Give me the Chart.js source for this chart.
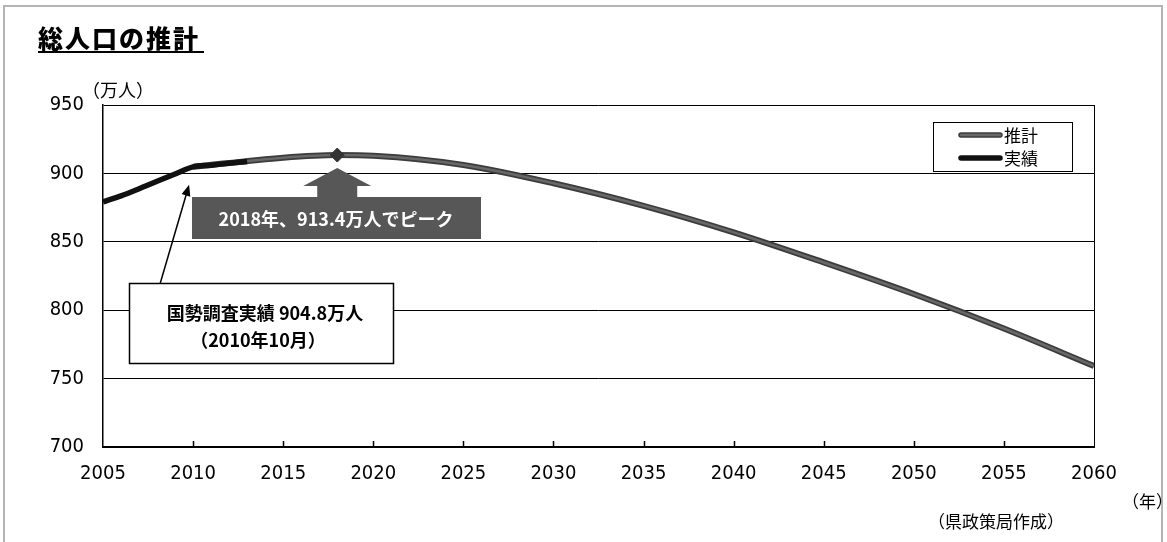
<!DOCTYPE html>
<html>
<head>
<meta charset="utf-8">
<script src="https://cdn.jsdelivr.net/npm/chart.js@4.4.1/dist/chart.umd.min.js"></script>
<style>
  html, body { margin: 0; padding: 0; background: #fff; }
  #wrap { width: 1167px; height: 542px; position: relative; }
</style>
</head>
<body>
<div id="wrap"><canvas id="popChart" width="1167" height="542"></canvas></div>
<script>
// 実績 (actual)
const actualYears = [2005, 2006, 2007, 2008, 2009, 2010, 2011, 2012, 2013];
const actualValues = [879.2, 883.6, 888.8, 894.3, 899.6, 904.8, 906.0, 907.4, 908.7];

// 推計 (projection)
const estYears = [2010, 2015, 2018, 2020, 2025, 2030, 2035, 2040, 2045, 2050, 2055, 2060];
const estValues = [904.8, 911.5, 913.4, 912.9, 906.2, 892.8, 876.3, 856.9, 834.9, 811.8, 786.6, 759.2];

const peakYear = 2018;
const yTicks = [700, 750, 800, 850, 900, 950];

const numFont = "'Liberation Sans Narrow', 'DejaVu Sans Condensed', 'Liberation Sans', sans-serif";
const jpFont = "'Noto Sans CJK JP', sans-serif";

function toPoints(xs, ys) {
    return xs.map((x, i) => ({ x: x, y: ys[i] }));
}

// extra drawings: frame, titles, annotations, legend
const decorPlugin = {
    id: 'decor',
    beforeDraw(chart) {
        const c = chart.ctx;
        c.save();
        c.strokeStyle = '#b4b4b4';
        c.lineWidth = 2;
        c.strokeRect(4, 6, 1158, 540);
        c.restore();
    },
    afterDatasetsDraw(chart) {
        const c = chart.ctx;
        const xs = chart.scales.x;
        const ys = chart.scales.y;
        const a = chart.chartArea;
        c.save();

        // plot frame
        c.strokeStyle = '#000';
        c.lineWidth = 1;
        c.beginPath();
        c.moveTo(a.right + 0.5, a.top);
        c.lineTo(a.right + 0.5, a.bottom);
        c.stroke();
        // inward x ticks
        c.lineWidth = 1.5;
        for (let yr = 2010; yr < 2060; yr += 5) {
            const px = Math.round(xs.getPixelForValue(yr)) + 0.5;
            c.beginPath();
            c.moveTo(px, a.bottom);
            c.lineTo(px, a.bottom - 6);
            c.stroke();
        }

        // title
        c.fillStyle = '#000';
        c.font = "900 25px " + jpFont;
        c.textBaseline = 'alphabetic';
        c.textAlign = 'left';
        const title = '総人口の推計';
        let tx = 38;
        for (const ch of title) {
            c.fillText(ch, tx, 48);
            tx += 27;
        }
        c.fillRect(38, 51, 166, 2);

        // unit labels
        c.font = "18px " + jpFont;
        c.fillText('（万人）', 82, 97);
        c.font = "17px " + jpFont;
        c.fillText('（年）', 1122, 508);
        c.fillText('（県政策局作成）', 928, 528);

        // peak annotation: block arrow + dark box
        const pkX = xs.getPixelForValue(peakYear);
        const pkY = ys.getPixelForValue(estValues[estYears.indexOf(peakYear)]);
        c.fillStyle = '#575757';
        c.beginPath();
        c.moveTo(pkX, pkY + 13);
        c.lineTo(pkX + 34, pkY + 31);
        c.lineTo(pkX + 20, pkY + 31);
        c.lineTo(pkX + 20, pkY + 43);
        c.lineTo(pkX - 20, pkY + 43);
        c.lineTo(pkX - 20, pkY + 31);
        c.lineTo(pkX - 34, pkY + 31);
        c.closePath();
        c.fill();
        c.fillRect(192, 197, 289, 42);
        c.fillStyle = '#fff';
        c.font = "bold 18px " + jpFont;
        c.textAlign = 'center';
        c.textBaseline = 'middle';
        c.fillText('2018年、913.4万人でピーク', 336, 219);

        // census annotation: pointer + white box
        const cx = xs.getPixelForValue(2010) - 4;
        const cy = ys.getPixelForValue(904.8) + 18;
        const sx = 160, sy = 284;
        const ang = Math.atan2(cy - sy, cx - sx);
        c.strokeStyle = '#000';
        c.fillStyle = '#000';
        c.lineWidth = 1.5;
        c.beginPath();
        c.moveTo(sx, sy);
        c.lineTo(cx - 8 * Math.cos(ang), cy - 8 * Math.sin(ang));
        c.stroke();
        c.beginPath();
        c.moveTo(cx, cy);
        c.lineTo(cx - 11 * Math.cos(ang) + 4.5 * Math.sin(ang), cy - 11 * Math.sin(ang) - 4.5 * Math.cos(ang));
        c.lineTo(cx - 11 * Math.cos(ang) - 4.5 * Math.sin(ang), cy - 11 * Math.sin(ang) + 4.5 * Math.cos(ang));
        c.closePath();
        c.fill();

        c.fillStyle = '#fff';
        c.fillRect(129, 283, 264, 80);
        c.lineWidth = 1.5;
        c.strokeRect(129.5, 283.5, 264, 80);
        c.fillStyle = '#000';
        c.font = "bold 18px " + jpFont;
        c.fillText('国勢調査実績 904.8万人', 265, 313);
        c.fillText('（2010年10月）', 258, 340);

        // legend
        c.fillStyle = '#fff';
        c.fillRect(933, 122, 139, 49);
        c.strokeStyle = '#000';
        c.lineWidth = 1;
        c.strokeRect(933.5, 122.5, 139, 49);
        c.lineCap = 'round';
        c.strokeStyle = '#3c3c3c';
        c.lineWidth = 5.5;
        c.beginPath(); c.moveTo(961, 135); c.lineTo(1000, 135); c.stroke();
        c.strokeStyle = '#686868';
        c.lineWidth = 2.5;
        c.beginPath(); c.moveTo(961, 135); c.lineTo(1000, 135); c.stroke();
        c.strokeStyle = '#111';
        c.lineWidth = 5.5;
        c.beginPath(); c.moveTo(961, 158); c.lineTo(1000, 158); c.stroke();
        c.fillStyle = '#000';
        c.font = "17px " + jpFont;
        c.textAlign = 'left';
        c.fillText('推計', 1004, 136);
        c.fillText('実績', 1004, 159);

        c.restore();
    }
};

const ctx = document.getElementById('popChart').getContext('2d');
new Chart(ctx, {
    type: 'line',
    data: {
        datasets: [
            {
                label: '実績',
                data: toPoints(actualYears, actualValues),
                borderColor: '#111',
                borderWidth: 5.5,
                pointRadius: 0,
                cubicInterpolationMode: 'monotone',
                borderCapStyle: 'butt'
            },
            {
                label: '推計',
                data: toPoints(estYears, estValues),
                borderColor: '#686868',
                borderWidth: 2.5,
                cubicInterpolationMode: 'monotone',
                pointStyle: 'rectRot',
                pointRadius: ctx2 => (ctx2.raw && ctx2.raw.x === peakYear ? 7 : 0),
                pointBackgroundColor: '#333',
                pointBorderColor: '#333',
                pointBorderWidth: 1
            },
            {
                label: '推計-edge',
                data: toPoints(estYears, estValues),
                borderColor: '#3c3c3c',
                borderWidth: 6,
                cubicInterpolationMode: 'monotone',
                pointRadius: 0
            }
        ]
    },
    options: {
        responsive: false,
        animation: false,
        layout: { padding: { top: 105, right: 73, left: 0, bottom: 0 } },
        scales: {
            x: {
                type: 'linear',
                min: 2005,
                max: 2060,
                afterFit: s => { s.height = 95; },
                ticks: {
                    stepSize: 5,
                    padding: 15,
                    color: '#000',
                    font: { family: numFont, size: 20 },
                    callback: v => String(v)
                },
                grid: { display: false, drawTicks: false },
                border: { display: true, color: '#000', width: 2 }
            },
            y: {
                min: 700,
                max: 950,
                afterFit: s => { s.width = 103; },
                afterBuildTicks: s => { s.ticks = yTicks.map(v => ({ value: v })); },
                ticks: {
                    padding: 19,
                    color: '#000',
                    font: { family: numFont, size: 20 }
                },
                grid: { color: '#000', lineWidth: 1, drawTicks: false },
                border: { display: true, color: '#000', width: 1.5 }
            }
        },
        plugins: {
            legend: { display: false },
            tooltip: { enabled: false }
        }
    },
    plugins: [decorPlugin]
});
</script>
</body>
</html>
